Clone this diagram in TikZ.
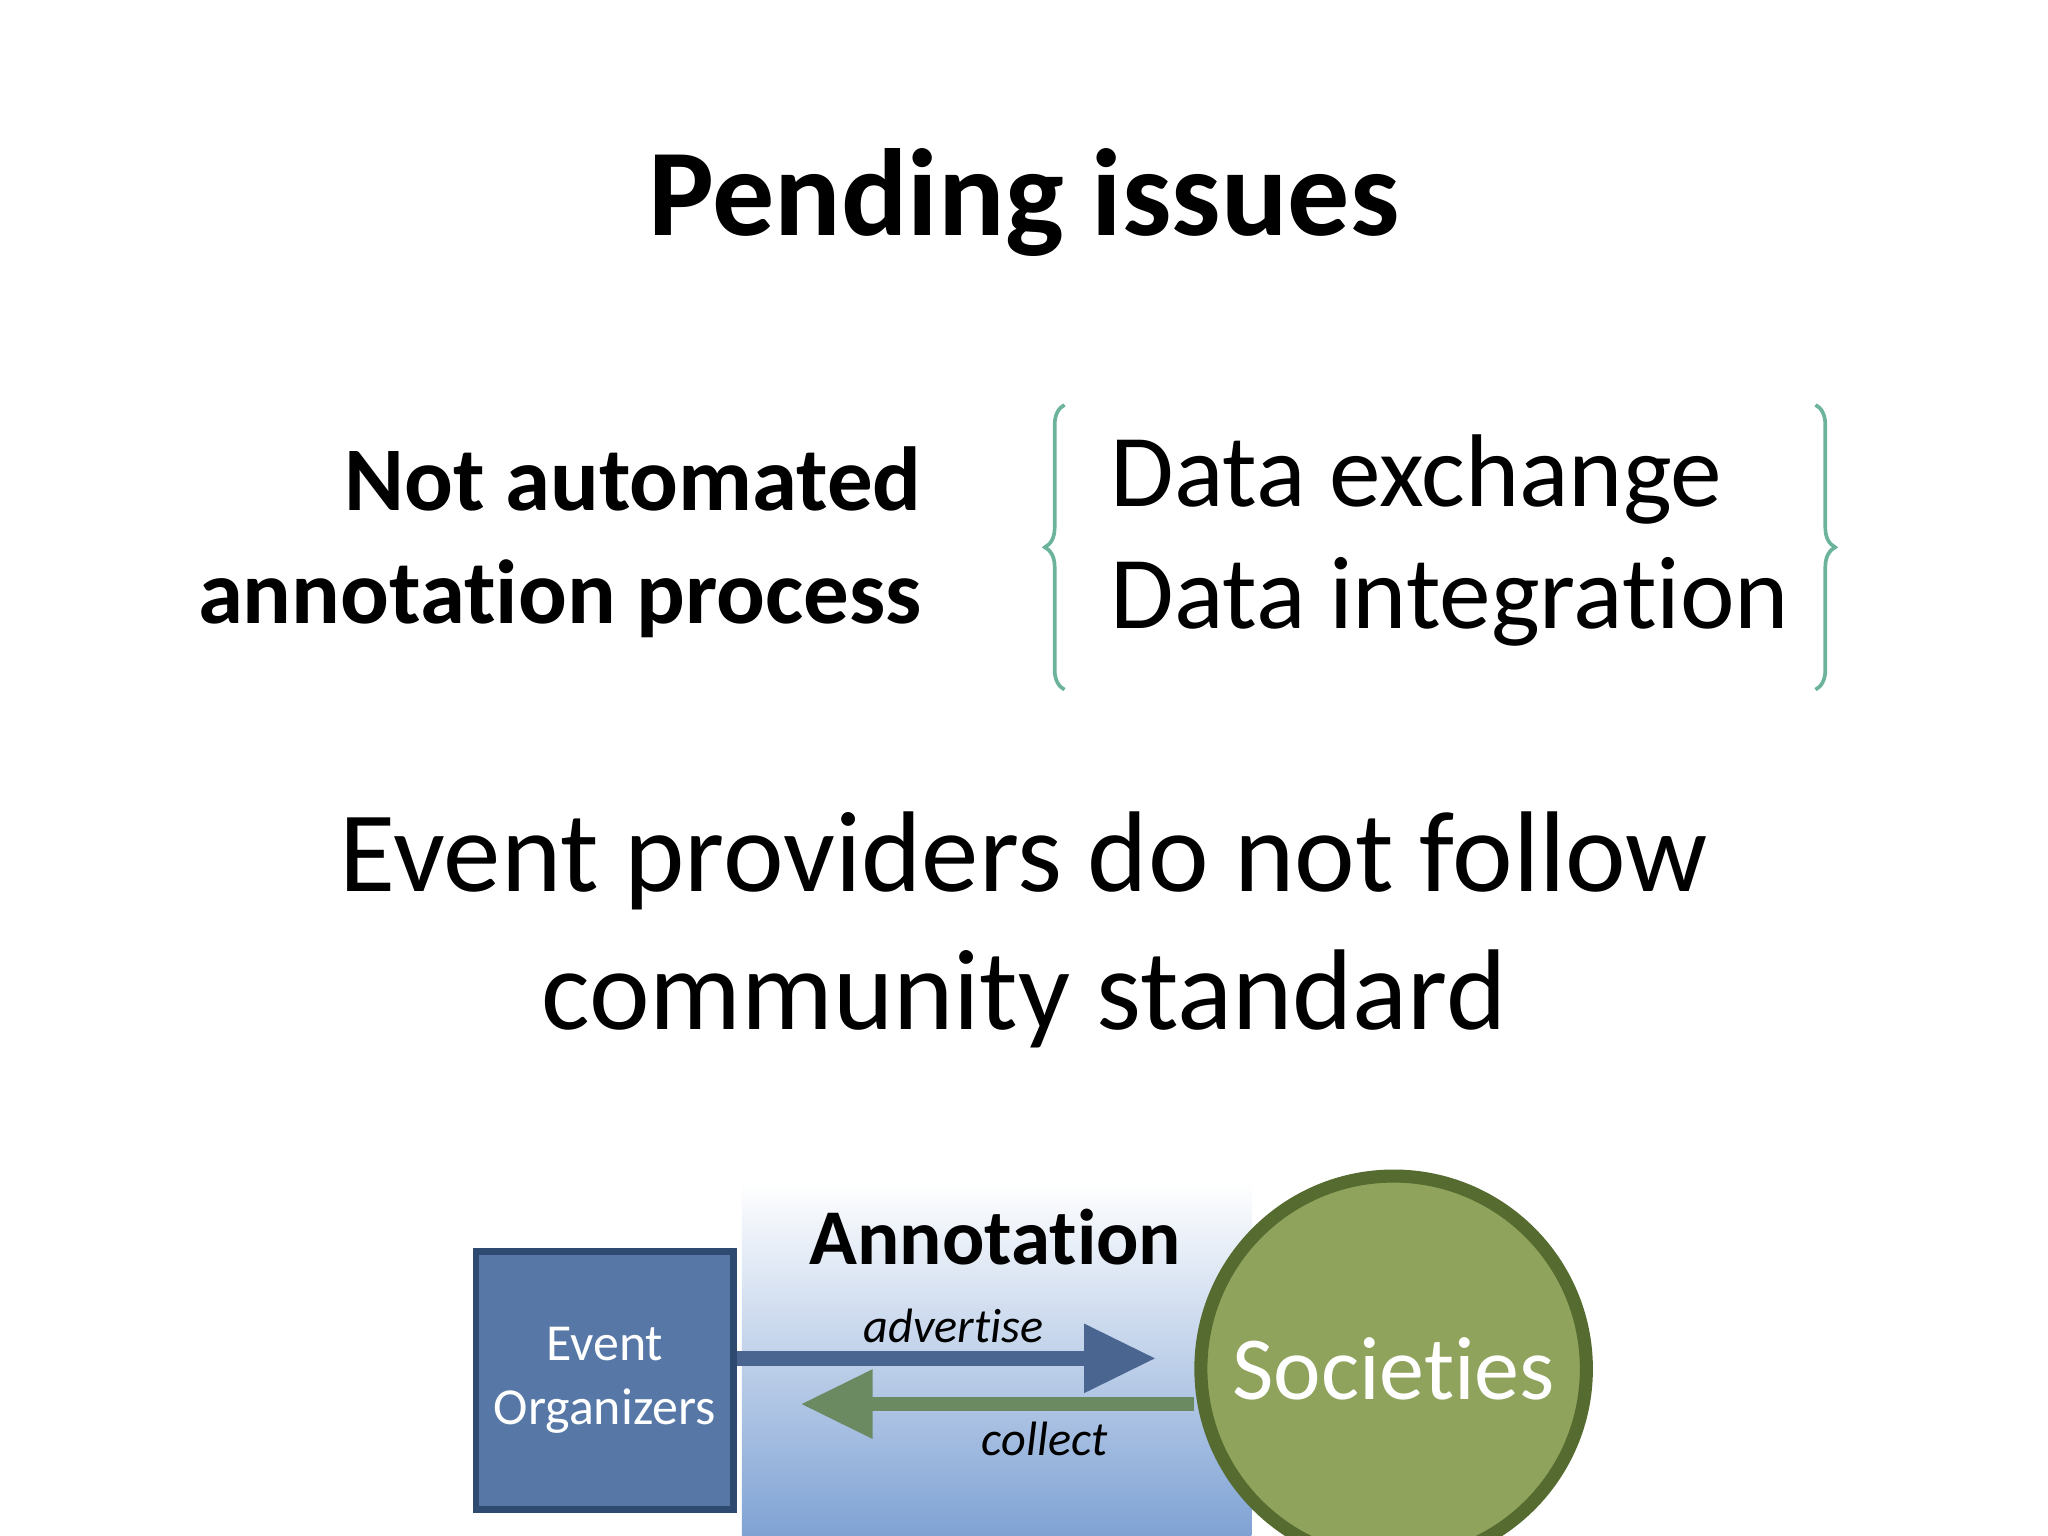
\documentclass[tikz,border=0pt]{standalone}
\usepackage{fontspec}
\setmainfont{Carlito}[RawFeature=-liga]
\usetikzlibrary{decorations.pathreplacing,arrows.meta}
\definecolor{brc}{HTML}{6BB39B}
\definecolor{boxf}{HTML}{5778A6}
\definecolor{boxd}{HTML}{2F4A70}
\definecolor{grf}{HTML}{8FA35C}
\definecolor{grd}{HTML}{556B2F}
\definecolor{arb}{HTML}{4A6690}
\definecolor{arg}{HTML}{6B8A62}
\definecolor{bgb}{HTML}{7FA2D4}
\begin{document}
\begin{tikzpicture}[x=0.01cm,y=-0.01cm,
  fat/.style={line width=0.11cm,-{Triangle[length=0.55cm,width=0.5cm]}},
  brace/.style={brc,line width=0.8pt,decorate,decoration={brace,amplitude=0.15cm}}]
\useasboundingbox (0,0) rectangle (1568,1176);
\node[font=\fontsize{27}{32}\selectfont\bfseries] (title) at (784,155) {Pending issues};
\node[align=right,anchor=east,font=\fontsize{19.8}{24.7}\selectfont\bfseries] (na) at (718,415) {Not automated\\ annotation process};
\node[anchor=west,font=\fontsize{22.5}{27}\selectfont] (de) at (838,367) {Data exchange};
\node[anchor=west,font=\fontsize{22.5}{27}\selectfont] (di) at (838,461) {Data integration};
\coordinate (lb1) at (815,528); \coordinate (lb2) at (815,310);
\coordinate (rb1) at (1390,310); \coordinate (rb2) at (1390,528);
\draw[brace] (lb1) -- (lb2);
\draw[brace] (rb1) -- (rb2);
\node[align=center,font=\fontsize{25}{29.9}\selectfont] (ep) at (784,712) {Event providers do not follow\\ community standard};
\shade[top color=white,bottom color=bgb] (568,905) rectangle (958,1176);
\node[font=\fontsize{17.2}{21}\selectfont\bfseries] (ann) at (762,947) {Annotation};
\node[draw=boxd,line width=1.5pt,fill=boxf,minimum size=1.97cm,text=white,align=center,font=\fontsize{11.3}{14}\selectfont] (eo) at (463,1057) {Event\\ Organizers};
\node[circle,draw=grd,line width=0.1cm,fill=grf,minimum size=2.95cm,text=white,font=\fontsize{19.6}{24}\selectfont] (soc) at (1067,1048) {Societies};
\coordinate (a1) at (885,1040); \coordinate (c1) at (613,1075);
\draw[fat,draw=arb,fill=arb] (eo.east|-a1) -- (a1);
\draw[fat,draw=arg,fill=arg] (soc.west|-c1) -- (c1);
\node[font=\fontsize{10.5}{13}\selectfont\itshape] (adv) at (730,1015) {advertise};
\node[font=\fontsize{10.5}{13}\selectfont\itshape] (col) at (800,1102) {collect};
\end{tikzpicture}
\end{document}
